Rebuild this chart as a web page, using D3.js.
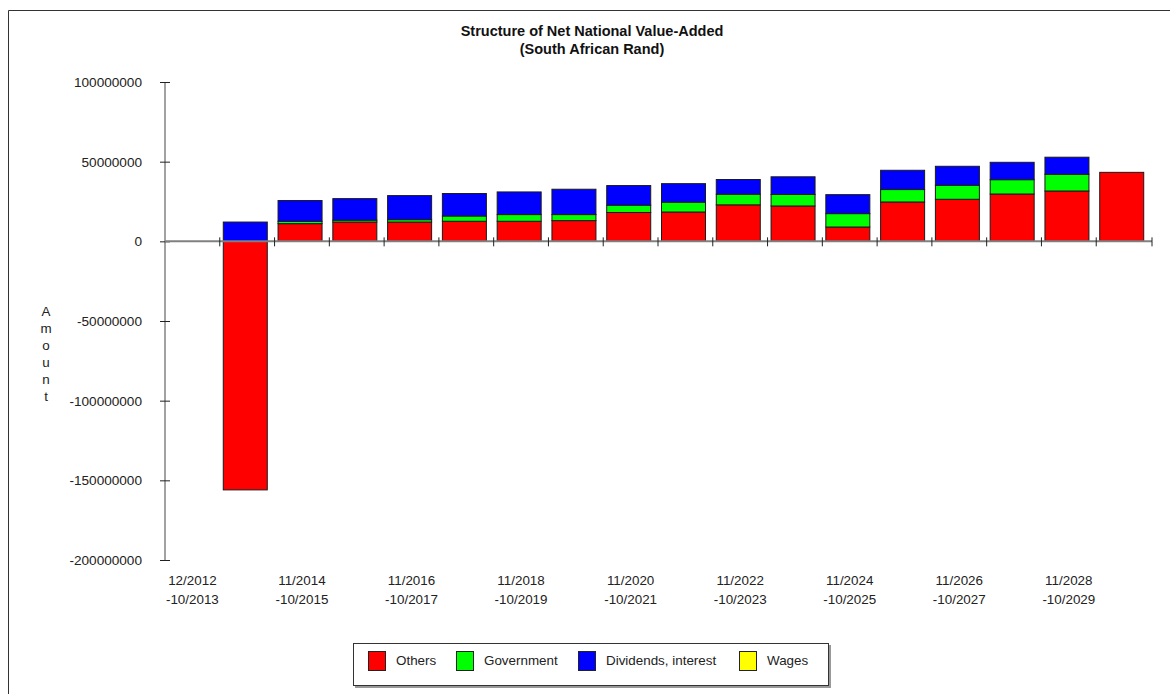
<!DOCTYPE html>
<html>
<head>
<meta charset="utf-8">
<script src="https://cdn.jsdelivr.net/npm/d3@7"></script>
<style>
  html, body { margin: 0; padding: 0; background: #fff; }
  svg { display: block; font-family: "Liberation Sans", Arial, sans-serif; }
</style>
</head>
<body>
<svg id="chart" width="1170" height="694"></svg>
<script>
// ---- data (South African Rand) ----
const categories = [
  "12/2012-10/2013", "11/2013-10/2014", "11/2014-10/2015", "11/2015-10/2016",
  "11/2016-10/2017", "11/2017-10/2018", "11/2018-10/2019", "11/2019-10/2020",
  "11/2020-10/2021", "11/2021-10/2022", "11/2022-10/2023", "11/2023-10/2024",
  "11/2024-10/2025", "11/2025-10/2026", "11/2026-10/2027", "11/2027-10/2028",
  "11/2028-10/2029", "11/2029-10/2030"
];
const others     = [0, -156000000, 11100000, 12100000, 12100000, 12600000, 12600000, 13000000, 18100000, 18400000, 22900000, 22200000, 9000000, 24700000, 26400000, 29700000, 31600000, 43300000];
const government = [0, 0, 1500000, 1200000, 1500000, 3300000, 4200000, 3800000, 4600000, 6200000, 6700000, 7200000, 8400000, 7800000, 8800000, 9000000, 10500000, 0];
const dividends  = [0, 12100000, 13000000, 13500000, 15100000, 14100000, 14200000, 15900000, 12300000, 11600000, 9200000, 11100000, 11900000, 12100000, 11900000, 10900000, 10700000, 0];
const wages      = [0, 0, 0, 0, 0, 0, 0, 0, 0, 0, 0, 0, 0, 0, 0, 0, 0, 0];
const seriesNames = ["Others", "Government", "Dividends, interest", "Wages"];
const seriesColors = ["#ff0000", "#00ff00", "#0000ff", "#ffff00"];
const yTicks = [100000000, 50000000, 0, -50000000, -100000000, -150000000, -200000000];
const titleLines = ["Structure of Net National Value-Added", "(South African Rand)"];
const yTitle = "Amount";

// ---- build ----
const svg = d3.select("#chart");
const rows = categories.map((c, i) => ({
  cat: c, Others: others[i], Government: government[i],
  "Dividends, interest": dividends[i], Wages: wages[i]
}));

const x = d3.scaleBand().domain(categories).range([165, 1151]).padding(0);
const y = d3.scaleLinear().domain([-200000000, 100000000]).range([560, 82]);

// frame
svg.append("path").attr("d", "M8.5,694 L8.5,10.5 L1170,10.5")
  .attr("fill", "none").attr("stroke", "#333").attr("stroke-width", 1);

// title
svg.append("g").selectAll("text").data(titleLines).join("text")
  .attr("x", 592).attr("y", (d, i) => 36 + i * 18)
  .attr("text-anchor", "middle").attr("font-size", 14.5).attr("font-weight", "bold")
  .attr("fill", "#111").text(d => d);

// stacked bars
const stack = d3.stack().keys(seriesNames).offset(d3.stackOffsetDiverging);
const layers = stack(rows);
const bw = 44;
const gBars = svg.append("g");
layers.forEach((layer, li) => {
  gBars.append("g").selectAll("rect")
    .data(layer.filter(d => d[1] !== d[0]))
    .join("rect")
    .attr("x", d => x(d.data.cat) + 3.5)
    .attr("width", bw)
    .attr("y", d => y(Math.max(d[0], d[1])))
    .attr("height", d => Math.abs(y(d[0]) - y(d[1])))
    .attr("fill", seriesColors[li])
    .attr("stroke", "#1a1a1a").attr("stroke-width", 1);
});

// y axis
const yAxis = d3.axisLeft(y).tickValues(yTicks).tickFormat(d => String(d))
  .tickSize(5).tickPadding(18);
const gy = svg.append("g").attr("transform", "translate(165,0)").call(yAxis);
gy.select(".domain").attr("stroke", "#444").attr("d", "M0," + y(100000000) + "V" + y(-200000000));
gy.selectAll(".tick line").attr("x1", -5).attr("x2", 5).attr("stroke", "#222");
gy.selectAll(".tick text").attr("font-size", 13.6).attr("fill", "#222")
  .attr("font-family", "Liberation Sans, Arial, sans-serif");

// x axis at zero
const gx = svg.append("g").attr("transform", "translate(0," + y(0) + ")");
gx.append("line").attr("x1", 165).attr("x2", 1152).attr("y1", 0).attr("y2", 0)
  .attr("stroke", "#808080").attr("stroke-width", 2);
gx.selectAll("line.tk").data(categories.slice(1).concat(["__end"])).join("line")
  .attr("class", "tk")
  .attr("x1", d => d === "__end" ? 1152 : x(d)).attr("x2", d => d === "__end" ? 1152 : x(d))
  .attr("y1", -4).attr("y2", 5).attr("stroke", "#222");

// x labels (every other category)
const gxl = svg.append("g");
categories.forEach((c, i) => {
  if (i % 2 !== 0) return;
  const parts = c.split("-");
  const cx = x(c) + x.bandwidth() / 2;
  const t = gxl.append("text").attr("text-anchor", "middle").attr("font-size", 13.4).attr("fill", "#222");
  t.append("tspan").attr("x", cx).attr("y", 585).text(parts[0]);
  t.append("tspan").attr("x", cx).attr("y", 604).text("-" + parts[1]);
});

// y title, stacked letters
svg.append("g").selectAll("text").data(yTitle.split("")).join("text")
  .attr("x", 46).attr("y", (d, i) => 316 + i * 17)
  .attr("text-anchor", "middle").attr("font-size", 13.4).attr("fill", "#222").text(d => d);

// legend
const lg = svg.append("g");
lg.append("rect").attr("x", 355).attr("y", 645).attr("width", 476).attr("height", 43).attr("fill", "#999");
lg.append("rect").attr("x", 353.5).attr("y", 643.5).attr("width", 475).attr("height", 42)
  .attr("fill", "#fff").attr("stroke", "#333");
const legX = [368.5, 456.5, 578.5, 739.5];
seriesNames.forEach((n, i) => {
  lg.append("rect").attr("x", legX[i]).attr("y", 651.5).attr("width", 17).attr("height", 19)
    .attr("fill", seriesColors[i]).attr("stroke", "#222");
  lg.append("text").attr("x", legX[i] + 27.5).attr("y", 665).attr("font-size", 13.4)
    .attr("fill", "#222").text(n);
});
</script>
</body>
</html>
